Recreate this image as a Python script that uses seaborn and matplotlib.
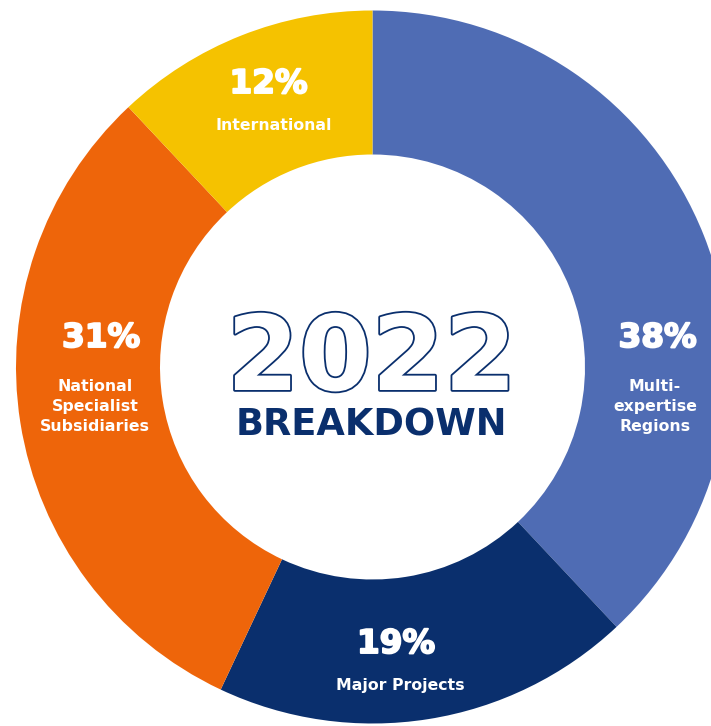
import matplotlib
matplotlib.use("Agg")
import matplotlib.pyplot as plt
import matplotlib.patheffects as pe
import seaborn as sns

# ---- data ----
segments = ["Multi-\nexpertise\nRegions", "Major Projects", "National\nSpecialist\nSubsidiaries", "International"]
shares = [38, 19, 31, 12]
pct_labels = ["38%", "19%", "31%", "12%"]
colors = ["#4F6CB4", "#0A2F6D", "#EE650A", "#F5C200"]
center_year = "2022"
center_title = "BREAKDOWN"

sns.set_theme(style="white")
plt.rcParams['font.family'] = ['DejaVu Sans']

W, H = 711, 726
fig = plt.figure(figsize=(W / 100, H / 100), dpi=100)
ax = fig.add_axes([0, 0, 1, 1])

cx, cy = 372.5, H - 367
R = 356.5
r_in = 212.5

wedges, _ = ax.pie(shares, colors=colors, startangle=90, counterclock=False,
                   center=(cx, cy), radius=R, frame=True,
                   wedgeprops=dict(width=R - r_in, linewidth=0))
ax.set_xlim(0, W)
ax.set_ylim(0, H)
ax.axis("off")

# label positions (pixel coords from top; baselines)
pct_pos = [(657.5, 347), (396, 653), (101, 347), (268.5, 93)]
lab_pos = [(655, 391), (400, 690), (95, 391), (273.5, 130)]
line_gap = 20
for p, l, (px, py), (lx, ly) in zip(pct_labels, segments, pct_pos, lab_pos):
    ax.text(px, H - py, p, color="white", fontsize=23.5, fontweight="bold",
            ha="center", va="baseline",
            path_effects=[pe.withStroke(linewidth=1.4, foreground="white")])
    for i, line in enumerate(l.split("\n")):
        ax.text(lx, H - (ly + i * line_gap), line, color="white", fontsize=11.3,
                fontweight="bold", ha="center", va="baseline")

navy = "#0A2F6D"
ax.text(371.5, H - 390, center_year, color="white", fontsize=75, fontweight="bold",
        ha="center", va="baseline",
        path_effects=[pe.withStroke(linewidth=2.6, foreground=navy)])
ax.text(371.5, H - 435, center_title, color=navy, fontsize=26.5,
        fontweight="bold", ha="center", va="baseline")

fig.savefig("out.png", dpi=100)
